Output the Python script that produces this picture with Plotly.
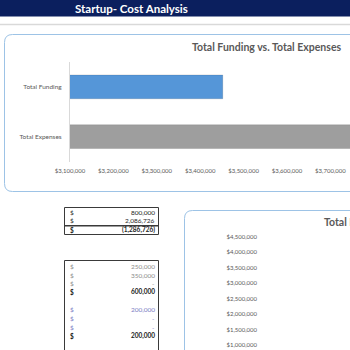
import plotly.graph_objects as go

# ---- data ----
bar_categories = ["Total Expenses", "Total Funding"]
bar_values = [3880000, 3452000]
bar_colors = ["#9E9E9E", "#5596D8"]

summary_values = [800000, 2086726, -1286726]

detail_values = [250000, 350000, 0, 600000, None, 200000, 0, 0, 200000]
detail_styles = ["muted", "muted", "muted", "total", None, "blue", "blue", "blue", "total"]

breakdown_ticks = [1000000, 1500000, 2000000, 2500000, 3000000, 3500000, 4000000, 4500000]

W = H = 350
FONT = "Lato, 'Open Sans', sans-serif"
TICK_COLOR = "#595959"


def px(x):
    return x / W


def py(y):
    return 1 - y / H


def rounded_box(x0, y0, x1, y1, r):
    return (
        f"M {px(x0)},{py(y0 + r)} Q {px(x0)},{py(y0)} {px(x0 + r)},{py(y0)} "
        f"L {px(x1)},{py(y0)} L {px(x1)},{py(y1)} L {px(x0 + r)},{py(y1)} "
        f"Q {px(x0)},{py(y1)} {px(x0)},{py(y1 - r)} Z"
    )


def fmt_money(v):
    if v == 0:
        return "-"
    if v < 0:
        return f"({abs(v):,.0f})"
    return f"{v:,.0f}"


def label(text, x, y, size, color, anchor="center"):
    return dict(text=text, x=px(x), y=py(y), xref="paper", yref="paper",
                xanchor=anchor, yanchor="middle", showarrow=False,
                font=dict(family=FONT, size=size, color=color))


fig = go.Figure()

fig.add_trace(go.Bar(
    y=bar_categories, x=bar_values, orientation="h",
    marker=dict(color=bar_colors, line=dict(color="rgba(0,0,0,0.12)", width=1)),
    xaxis="x", yaxis="y", showlegend=False, hoverinfo="skip",
))

# empty column chart whose value axis is visible in the lower panel
fig.add_trace(go.Scatter(
    x=[0], y=[None], mode="markers", xaxis="x2", yaxis="y2",
    showlegend=False, hoverinfo="skip",
))

shapes = []
annotations = []

# header band and separator
shapes.append(dict(type="rect", xref="paper", yref="paper", x0=0, x1=1,
                   y0=py(16.5), y1=1, fillcolor="#0B1F5E", line_width=0, layer="below"))
shapes.append(dict(type="line", xref="paper", yref="paper", x0=0, x1=1,
                   y0=py(24.5), y1=py(24.5), line=dict(color="#D9D9D9", width=1.5), layer="below"))
annotations.append(label("<b>Startup- Cost Analysis</b>", 131, 8.5, 11.5, "white"))

# chart frames
shapes.append(dict(type="path", xref="paper", yref="paper",
                   path=rounded_box(4.5, 34.5, 370, 191.5, 8),
                   fillcolor="white", line=dict(color="#9DC3E6", width=1), layer="below"))
shapes.append(dict(type="path", xref="paper", yref="paper",
                   path=rounded_box(184.5, 210.5, 370, 380, 8),
                   fillcolor="white", line=dict(color="#9DC3E6", width=1), layer="below"))

annotations.append(label("<b>Total Funding vs. Total Expenses</b>", 266.5, 47, 10.5, "#595959"))
annotations.append(label("<b>Total Expenses</b>", 321.5, 222, 10.5, "#595959", "left"))

# summary table
row_h = 8.7
TABLE_L, TABLE_R = 64.5, 158.5
shapes.append(dict(type="rect", xref="paper", yref="paper", x0=px(TABLE_L), x1=px(TABLE_R),
                   y0=py(234.5), y1=py(207.5), line=dict(color="#3A3A3A", width=1),
                   fillcolor="white", layer="below"))
shapes.append(dict(type="line", xref="paper", yref="paper", x0=px(TABLE_L), x1=px(TABLE_R),
                   y0=py(225.8), y1=py(225.8), line=dict(color="#3A3A3A", width=1.5)))
for i, v in enumerate(summary_values):
    yy = 212.2 + i * row_h
    bold = i == len(summary_values) - 1
    col = "#262626"
    t_left = "<b>$</b>" if bold else "$"
    t_right = f"<b>{fmt_money(v)}</b>" if bold else fmt_money(v)
    annotations.append(label(t_left, 68, yy, 6.5, col, "left"))
    annotations.append(label(t_right, 156.5, yy, 6.5, col, "right"))

# detail table
shapes.append(dict(type="rect", xref="paper", yref="paper", x0=px(TABLE_L), x1=px(TABLE_R),
                   y0=py(380), y1=py(260.5), line=dict(color="#3A3A3A", width=1),
                   fillcolor="white", layer="below"))
style_colors = {"muted": "#8C8C8C", "blue": "#7C7CC4", "total": "#1A1A1A"}
for i, (v, s) in enumerate(zip(detail_values, detail_styles)):
    if v is None:
        continue
    yy = 266.5 + i * 8.65
    col = style_colors[s]
    bold = s == "total"
    t_left = "<b>$</b>" if bold else "$"
    t_right = f"<b>{fmt_money(v)}</b>" if bold else fmt_money(v)
    annotations.append(label(t_left, 68, yy, 6.5, col, "left"))
    annotations.append(label(t_right, 156.5, yy, 6.5, col, "right"))

# axis geometry for the funding chart: $3,100,000 at x=70, 43.4 px per $100,000
x_lo = 3100000
x_hi = x_lo + (W - 70) / 43.4 * 100000

# lower value axis: $1,000,000 at y=345, 15.47 px per $500,000
y2_bottom = 1000000 - (350 - 345) / 15.47 * 500000
y2_top = 4500000 + (236.7 - 230) / 15.47 * 500000

fig.update_layout(
    width=W, height=H,
    margin=dict(l=0, r=0, t=0, b=0),
    paper_bgcolor="white", plot_bgcolor="rgba(0,0,0,0)",
    bargap=0.52,
    font=dict(family=FONT, color=TICK_COLOR),
    xaxis=dict(domain=[px(70), 1], range=[x_lo, x_hi], anchor="y", automargin=False,
               tick0=x_lo, dtick=100000, tickformat="$,.0f",
               showgrid=False, zeroline=False, showline=False, ticks="",
               tickfont=dict(size=6, color=TICK_COLOR), ticklabelstandoff=4),
    yaxis=dict(domain=[py(161.5), py(62)], range=[-0.5, 1.5], anchor="x", automargin=False,
               type="category", categoryorder="array", categoryarray=bar_categories,
               showline=True, linecolor="#D9D9D9", linewidth=1,
               showgrid=False, zeroline=False, ticks="",
               tickfont=dict(size=6.5, color=TICK_COLOR), ticklabelstandoff=6),
    xaxis2=dict(domain=[px(261), 1], range=[0, 1], anchor="y2", visible=False, automargin=False),
    yaxis2=dict(domain=[0, py(230)], range=[y2_bottom, y2_top], anchor="x2", automargin=False,
                tickvals=breakdown_ticks, tickformat="$,.0f",
                showgrid=False, zeroline=False, showline=False, ticks="",
                tickfont=dict(size=6, color=TICK_COLOR), ticklabelstandoff=3),
    shapes=shapes,
    annotations=annotations,
)

fig.write_html("out.html")
